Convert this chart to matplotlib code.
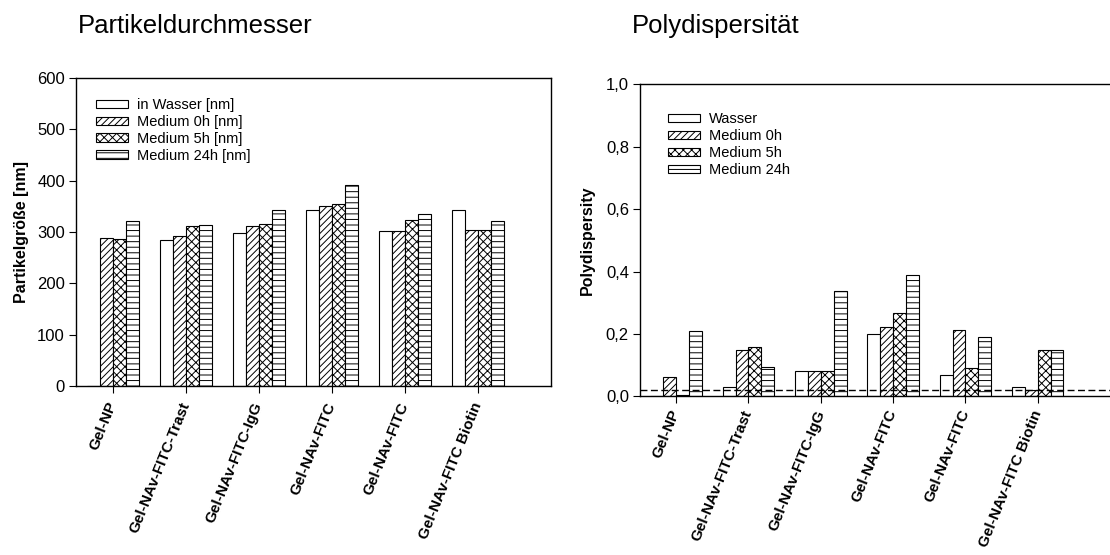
import matplotlib
matplotlib.use("Agg")
import matplotlib.pyplot as plt
import numpy as np
from matplotlib.ticker import FuncFormatter, MultipleLocator

plt.rcParams['font.family'] = ['Liberation Sans', 'DejaVu Sans']
plt.rcParams['hatch.linewidth'] = 0.7

# Samples (shared by both panels)
samples = ["Gel-NP", "Gel-NAv-FITC-Trast", "Gel-NAv-FITC-IgG",
           "Gel-NAv-FITC", "Gel-NAv-FITC", "Gel-NAv-FITC Biotin"]

# Particle diameter [nm]
size_water = [0, 285, 298, 343, 302, 343]
size_0h = [288, 293, 312, 351, 302, 303]
size_5h = [286, 312, 316, 355, 324, 303]
size_24h = [322, 313, 342, 392, 335, 322]

# Polydispersity index
pdi_water = [0.0, 0.03, 0.08, 0.20, 0.069, 0.03]
pdi_0h = [0.062, 0.15, 0.08, 0.223, 0.213, 0.02]
pdi_5h = [0.004, 0.159, 0.08, 0.267, 0.092, 0.149]
pdi_24h = [0.21, 0.093, 0.337, 0.389, 0.19, 0.149]
pdi_threshold = 0.02

size_labels = ["in Wasser [nm]", "Medium 0h [nm]", "Medium 5h [nm]", "Medium 24h [nm]"]
pdi_labels = ["Wasser", "Medium 0h", "Medium 5h", "Medium 24h"]
hatches = ["", "/////", "xxxx", "---"]

fig = plt.figure(figsize=(11.1, 5.55), dpi=100)
ax1 = fig.add_axes([0.0685, 0.3045, 0.4279, 0.555])
ax2 = fig.add_axes([0.5766, 0.2856, 0.4234, 0.5630])

x = np.arange(1, len(samples) + 1)
w = 0.178


def draw_groups(ax, series, labels, label_pad):
    handles = []
    for i, (vals, lab) in enumerate(zip(series, labels)):
        h = ax.bar(x + (i - 1.5) * w, vals, width=w, color="white",
                   edgecolor="black", linewidth=0.8, hatch=hatches[i],
                   label=lab, zorder=2)
        handles.append(h)
    ax.set_xlim(0.5, 7.0)
    ax.set_xticks(x)
    ax.set_xticklabels(samples, rotation=68, ha="right", va="center",
                       rotation_mode="anchor", fontsize=11,
                       fontweight="bold")
    ax.tick_params(axis="x", direction="out", length=5, width=0.8,
                   pad=label_pad)
    ax.tick_params(axis="y", direction="out", length=5, width=0.8, pad=3,
                   labelsize=12)
    for sp in ax.spines.values():
        sp.set_linewidth(1.0)
    return handles


draw_groups(ax1, [size_water, size_0h, size_5h, size_24h], size_labels, 7)
ax1.set_ylim(0, 600)
ax1.yaxis.set_major_locator(MultipleLocator(100))
ax1.set_ylabel("Partikelgröße [nm]", fontsize=11.5, fontweight="bold",
               labelpad=6)
ax1.legend(loc="upper left", bbox_to_anchor=(0.042, 0.935), frameon=False,
           fontsize=10.5, handlelength=2.2, handleheight=0.5,
           handletextpad=0.6, labelspacing=0.2, borderpad=0,
           borderaxespad=0)

draw_groups(ax2, [pdi_water, pdi_0h, pdi_5h, pdi_24h], pdi_labels, 5)
ax2.set_ylim(0, 1.0)
ax2.yaxis.set_major_locator(MultipleLocator(0.2))
ax2.yaxis.set_major_formatter(FuncFormatter(lambda v, p: f"{v:.1f}".replace(".", ",")))
ax2.axhline(pdi_threshold, color="black", linewidth=1.0, dashes=(5, 2.5),
            zorder=3)
ax2.spines["right"].set_visible(False)
ax2.set_ylabel("Polydispersity", fontsize=11.5, fontweight="bold",
               labelpad=8)
ax2.legend(loc="upper left", bbox_to_anchor=(0.06, 0.91), frameon=False,
           fontsize=10.5, handlelength=2.2, handleheight=0.5,
           handletextpad=0.6, labelspacing=0.2, borderpad=0,
           borderaxespad=0)

fig.text(0.0703, 0.9405, "Partikeldurchmesser", fontsize=18.5,
         va="baseline", ha="left")
fig.text(0.569, 0.9405, "Polydispersität", fontsize=18.5,
         va="baseline", ha="left")

fig.savefig("out.png", dpi=100)
